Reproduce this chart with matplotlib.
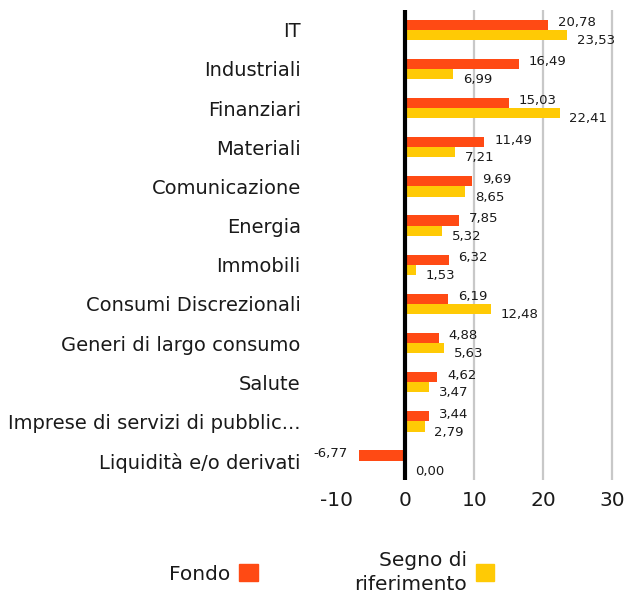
import matplotlib
matplotlib.use("Agg")
import matplotlib.pyplot as plt
from matplotlib.patches import Patch
import numpy as np

plt.rcParams['font.family'] = ['DejaVu Sans']

# data
categories = ["IT", "Industriali", "Finanziari", "Materiali", "Comunicazione",
              "Energia", "Immobili", "Consumi Discrezionali",
              "Generi di largo consumo", "Salute",
              "Imprese di servizi di pubblic...", "Liquidità e/o derivati"]
fondo = [20.78, 16.49, 15.03, 11.49, 9.69, 7.85, 6.32, 6.19, 4.88, 4.62, 3.44, -6.77]
riferimento = [23.53, 6.99, 22.41, 7.21, 8.65, 5.32, 1.53, 12.48, 5.63, 3.47, 2.79, 0.00]
x_ticks = [-10, 0, 10, 20, 30]

col_fondo = "#FF4A14"
col_rif = "#FFCA05"
txt_col = "#1a1a1a"

fig = plt.figure(figsize=(6.27, 5.98), dpi=100)
ax = fig.add_axes([0.493, 0.197, 0.486, 0.786])

y = np.arange(len(categories))
h = 0.26
ax.barh(y - h / 2, fondo, height=h, color=col_fondo, zorder=2)
ax.barh(y + h / 2, riferimento, height=h, color=col_rif, zorder=2)

def fmt(v):
    return f"{v:.2f}".replace(".", ",")

# value labels
for yi, v in zip(y, fondo):
    if v >= 0:
        ax.annotate(fmt(v), (v, yi - h / 2), xytext=(7, 1.5), textcoords="offset points",
                    ha="left", va="center", fontsize=9.5, color=txt_col)
    else:
        ax.annotate(fmt(v), (v, yi - h / 2), xytext=(-8, 1.5), textcoords="offset points",
                    ha="right", va="center", fontsize=9.5, color=txt_col)
for yi, v in zip(y, riferimento):
    ax.annotate(fmt(v), (max(v, 0), yi + h / 2), xytext=(7, -4), textcoords="offset points",
                ha="left", va="center", fontsize=9.5, color=txt_col)

ax.set_xlim(-14, 30.3)
ax.set_ylim(len(categories) - 0.5, -0.5)
ax.set_yticks(y)
ax.set_yticklabels(categories, fontsize=14, color=txt_col)
ax.set_xticks(x_ticks)
ax.set_xticklabels([str(t) for t in x_ticks], fontsize=14.5, color=txt_col)
ax.tick_params(length=0)
ax.tick_params(axis="y", pad=6)
ax.tick_params(axis="x", pad=8)
for s in ax.spines.values():
    s.set_visible(False)

ax.grid(axis="x", color="#c8c8c8", linewidth=1.6, zorder=0)
for loc, gl in zip(ax.get_xticks(), ax.get_xgridlines()):
    if loc <= 0:
        gl.set_visible(False)
ax.axvline(0, color="black", linewidth=3, zorder=3)

handles = [Patch(color=col_fondo), Patch(color=col_rif)]
leg = fig.legend(handles, ["Fondo", "Segno di\nriferimento"], loc="center",
                 bbox_to_anchor=(0.529, 0.043), ncol=2, frameon=False, markerfirst=False,
                 fontsize=14.5, handlelength=0.9, handleheight=0.9, handletextpad=0.45,
                 columnspacing=4.8)
for t in leg.get_texts():
    t.set_multialignment("right")
    t.set_linespacing(1.3)
    t.set_color(txt_col)

fig.savefig("out.png", dpi=100)
